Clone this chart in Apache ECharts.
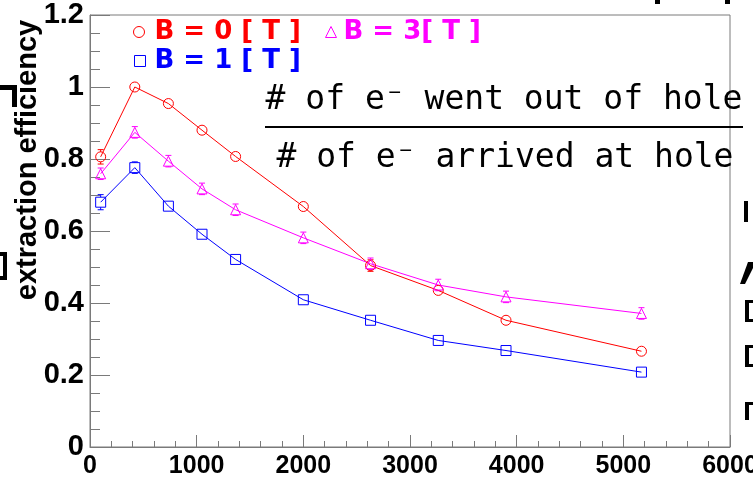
<!DOCTYPE html>
<html>
<head>
<meta charset="utf-8">
<script src="https://cdn.jsdelivr.net/npm/echarts@6/dist/echarts.min.js"></script>
<style>
html,body{margin:0;padding:0;background:#fff;}
#chart{width:753px;height:496px;}
</style>
</head>
<body>
<div id="chart"></div>
<script>
// ---- data ----
const eh = [100, 420, 735, 1050, 1365, 2000, 2630, 3265, 3900, 5170];
const effB0 = [0.806, 1.000, 0.954, 0.880, 0.807, 0.668, 0.504, 0.435, 0.352, 0.266];
const effB3 = [0.759, 0.874, 0.794, 0.717, 0.659, 0.581, 0.509, 0.450, 0.417, 0.371];
const effB1 = [0.680, 0.776, 0.669, 0.591, 0.521, 0.409, 0.352, 0.296, 0.268, 0.208];
const errB0 = [0.020, 0.008, 0.006, 0.006, 0.006, 0.006, 0.016, 0.012, 0.006, 0.006];
const errB3 = [0.016, 0.016, 0.016, 0.016, 0.016, 0.016, 0.016, 0.016, 0.016, 0.016];
const errB1 = [0.021, 0.016, 0.010, 0.010, 0.010, 0.010, 0.010, 0.010, 0.010, 0.010];
const seriesNames = ['B = 0 [ T ]', 'B = 3[ T ]', 'B = 1 [ T ]'];
const xTitle = 'Eh[V/cm]';
const yTitle = 'extraction efficiency';
const numerText = '# of e\u207B went out of hole';
const denomText = '# of e\u207B arrived at hole';

const RED = '#ff0000', MAG = '#ff00ff', BLUE = '#0000ff';
const FRAME = '#7a7a7a';

function pts(ys) { return eh.map((x, i) => [x, ys[i]]); }
function errPts(ys, es) { return eh.map((x, i) => [x, ys[i], es[i]]); }

function errSeries(name, ys, es, color) {
  return {
    type: 'custom',
    name: name + ' err',
    silent: true,
    z: 3,
    data: errPts(ys, es),
    renderItem: function (params, api) {
      const x = api.value(0), y = api.value(1), e = api.value(2);
      const ctr = api.coord([x, y]);
      const lo = api.coord([x, y - e]);
      const hi = api.coord([x, y + e]);
      const r = 5, c = 3;
      const kids = [];
      const st = { stroke: color, lineWidth: 1 };
      if (lo[1] - ctr[1] > r) {
        kids.push({ type: 'line', shape: { x1: ctr[0], y1: ctr[1] + r, x2: lo[0], y2: lo[1] }, style: st });
        kids.push({ type: 'line', shape: { x1: lo[0] - c, y1: lo[1], x2: lo[0] + c, y2: lo[1] }, style: st });
      }
      if (ctr[1] - hi[1] > r) {
        kids.push({ type: 'line', shape: { x1: ctr[0], y1: ctr[1] - r, x2: hi[0], y2: hi[1] }, style: st });
        kids.push({ type: 'line', shape: { x1: hi[0] - c, y1: hi[1], x2: hi[0] + c, y2: hi[1] }, style: st });
      }
      return { type: 'group', children: kids };
    }
  };
}

function lineSeries(name, ys, color, symbol, size) {
  return {
    type: 'line',
    name: name,
    data: pts(ys),
    symbol: symbol,
    symbolSize: size,
    showAllSymbol: true,
    z: 4,
    lineStyle: { color: color, width: 1 },
    itemStyle: { color: 'rgba(255,255,255,0)', borderColor: color, borderWidth: 1 },
    emphasis: { disabled: true },
    animation: false
  };
}

const legendText = { fontFamily: 'DejaVu Sans', fontWeight: 'bold', fontSize: 26 };
function legend(name, color, icon, left, top, pad) {
  const ts = Object.assign({ color: color, padding: [0, 0, 0, pad] }, legendText);
  return {
    left: left, top: top, orient: 'horizontal',
    itemWidth: 11, itemHeight: 11, itemGap: 0,
    selectedMode: false,
    data: [{ name: name, icon: icon, itemStyle: { color: 'rgba(255,255,255,0)', borderColor: color, borderWidth: 1 }, textStyle: ts }],
    textStyle: ts
  };
}

const black = { fill: '#000' };
const chart = echarts.init(document.getElementById('chart'), null, { renderer: 'canvas' });
chart.setOption({
  animation: false,
  backgroundColor: '#fff',
  grid: { left: 90, top: 15, right: 23, bottom: 49, show: true, borderColor: FRAME, borderWidth: 1, backgroundColor: 'transparent', containLabel: false, outerBoundsMode: 'none' },
  legend: [
    legend(seriesNames[0], RED, 'circle', 128, 14, 5),
    legend(seriesNames[1], MAG, 'triangle', 320, 14, 2),
    legend(seriesNames[2], BLUE, 'rect', 129, 43, 4)
  ],
  xAxis: {
    type: 'value', min: 0, max: 6000, interval: 1000,
    name: xTitle, nameLocation: 'end', nameGap: 0,
    nameTextStyle: { align: 'right', verticalAlign: 'top', padding: [26, 0, 0, 0], fontFamily: 'Liberation Sans', fontWeight: 'bold', fontSize: 22, color: '#000' },
    axisLine: { show: true, onZero: false, lineStyle: { color: FRAME, width: 1 } },
    axisTick: { show: true, inside: true, length: 12, lineStyle: { color: FRAME } },
    minorTick: { show: true, splitNumber: 5, length: 6, lineStyle: { color: FRAME } },
    splitLine: { show: false },
    axisLabel: { color: '#000', fontFamily: 'Liberation Sans', fontWeight: 'bold', fontSize: 25, margin: 7, showMaxLabel: true, showMinLabel: true, hideOverlap: false, formatter: function (v) { return String(v); } }
  },
  yAxis: {
    type: 'value', min: 0, max: 1.2, interval: 0.2,
    axisLine: { show: true, onZero: false, lineStyle: { color: FRAME, width: 1 } },
    axisTick: { show: true, inside: true, length: 20, lineStyle: { color: FRAME } },
    minorTick: { show: true, splitNumber: 4, length: 10, lineStyle: { color: FRAME } },
    splitLine: { show: false },
    axisLabel: { color: '#000', fontFamily: 'Liberation Sans', fontWeight: 'bold', fontSize: 29, margin: 6, showMaxLabel: true, showMinLabel: true, hideOverlap: false, formatter: function (v) { return String(Math.round(v * 10) / 10); } }
  },
  series: [
    errSeries(seriesNames[0], effB0, errB0, RED),
    errSeries(seriesNames[1], effB3, errB3, MAG),
    errSeries(seriesNames[2], effB1, errB1, BLUE),
    lineSeries(seriesNames[0], effB0, RED, 'circle', 10),
    lineSeries(seriesNames[1], effB3, MAG, 'triangle', 10),
    lineSeries(seriesNames[2], effB1, BLUE, 'rect', 10)
  ],
  graphic: [
    { type: 'text', x: 28, y: 160, rotation: Math.PI / 2, z: 10,
      style: { text: yTitle, fill: '#000', font: 'bold 29px "Liberation Sans"', align: 'center', verticalAlign: 'middle' } },
    { type: 'text', x: 504, y: 100, z: 10,
      style: { text: numerText, fill: '#000', font: '33px "DejaVu Sans Mono"', align: 'center', verticalAlign: 'middle' } },
    { type: 'line', z: 10, shape: { x1: 265, y1: 127, x2: 743, y2: 127 }, style: { stroke: '#000', lineWidth: 2 } },
    { type: 'text', x: 505, y: 158, z: 10,
      style: { text: denomText, fill: '#000', font: '33px "DejaVu Sans Mono"', align: 'center', verticalAlign: 'middle' } },
    // fragments of neighbouring slide text cut off by the crop
    { type: 'rect', z: 10, shape: { x: 0, y: 85, width: 15, height: 5 }, style: black },
    { type: 'rect', z: 10, shape: { x: 12, y: 85, width: 5, height: 22 }, style: black },
    { type: 'rect', z: 10, shape: { x: 0, y: 252, width: 6, height: 4 }, style: black },
    { type: 'rect', z: 10, shape: { x: 0, y: 276, width: 6, height: 4 }, style: black },
    { type: 'rect', z: 10, shape: { x: 3, y: 252, width: 4, height: 28 }, style: black },
    { type: 'rect', z: 10, shape: { x: 655, y: 0, width: 5, height: 4 }, style: black },
    { type: 'rect', z: 10, shape: { x: 725, y: 0, width: 5, height: 4 }, style: black },
    { type: 'rect', z: 10, shape: { x: 744, y: 201, width: 4, height: 21 }, style: black },
    { type: 'polygon', z: 10, shape: { points: [[740, 284], [748, 262], [753, 262], [753, 268], [745, 284]] }, style: black },
    { type: 'rect', z: 10, shape: { x: 745, y: 300, width: 4, height: 22 }, style: black },
    { type: 'rect', z: 10, shape: { x: 745, y: 300, width: 8, height: 3 }, style: black },
    { type: 'rect', z: 10, shape: { x: 745, y: 319, width: 8, height: 3 }, style: black },
    { type: 'rect', z: 10, shape: { x: 745, y: 345, width: 4, height: 22 }, style: black },
    { type: 'rect', z: 10, shape: { x: 745, y: 345, width: 8, height: 3 }, style: black },
    { type: 'rect', z: 10, shape: { x: 745, y: 364, width: 8, height: 3 }, style: black },
    { type: 'rect', z: 10, shape: { x: 745, y: 402, width: 4, height: 18 }, style: black },
    { type: 'rect', z: 10, shape: { x: 745, y: 402, width: 8, height: 3 }, style: black }
  ]
});
</script>
</body>
</html>
